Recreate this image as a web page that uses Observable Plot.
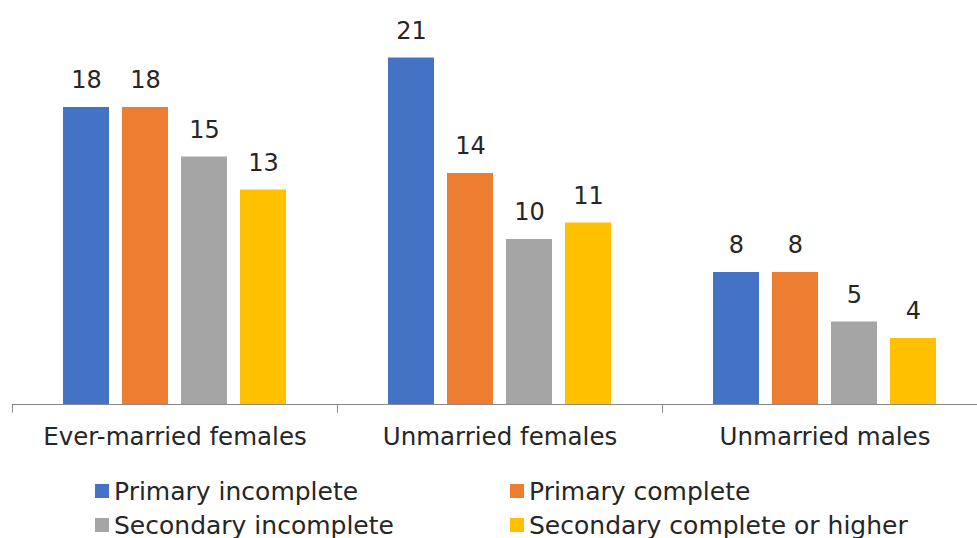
<!DOCTYPE html>
<html>
<head>
<meta charset="utf-8">
<script src="https://cdn.jsdelivr.net/npm/d3@7"></script>
<script src="https://cdn.jsdelivr.net/npm/@observablehq/plot@0.6"></script>
<style>
  html, body { margin: 0; background: #fff; overflow: hidden; font-family: "DejaVu Sans", sans-serif; color: #262626; }
  #chart svg { display: block; overflow: hidden; }
  #legend { position: relative; width: 977px; height: 68px; }
  .item { position: absolute; display: flex; align-items: center; height: 34px; font-size: 25px; white-space: nowrap; }
  .sw { width: 14px; height: 14px; margin-right: 5px; flex: none; }
</style>
</head>
<body>
<div id="chart"></div>
<div id="legend"></div>
<script>
const groups = ["Ever-married females", "Unmarried females", "Unmarried males"];
const series = ["Primary incomplete", "Primary complete", "Secondary incomplete", "Secondary complete or higher"];
const colors = ["#4472C4", "#ED7D31", "#A5A5A5", "#FFC000"];
const primaryIncomplete = [18, 21, 8];
const primaryComplete = [18, 14, 8];
const secondaryIncomplete = [15, 10, 5];
const secondaryCompleteOrHigher = [13, 11, 4];
const seriesValues = [primaryIncomplete, primaryComplete, secondaryIncomplete, secondaryCompleteOrHigher];

const data = groups.flatMap((g, gi) => series.map((s, si) => ({group: g, series: s, value: seriesValues[si][gi]})));

const axisColor = "#898989";

const chart = Plot.plot({
  width: 977,
  height: 470,
  marginLeft: 12,
  marginRight: -10,
  marginTop: 8,
  marginBottom: 66,
  style: {fontFamily: "DejaVu Sans, sans-serif", fontSize: "24.5px", color: "#262626", background: "#fff"},
  fx: {domain: groups, padding: 0, label: null, tickSize: 0, tickPadding: 23},
  x: {domain: series, paddingInner: 0.22, paddingOuter: 0.864, axis: null},
  y: {domain: [0, 24], axis: null},
  color: {domain: series, range: colors},
  marks: [
    Plot.barY(data, {fx: "group", x: "series", y: "value", fill: "series"}),
    Plot.text(data, {fx: "group", x: "series", y: "value", text: d => String(d.value), dy: -27, fontSize: 24, fill: "#262626"}),
    Plot.ruleY([0], {stroke: axisColor}),
    (index, scales, values, dimensions) => {
      const y0 = Math.round(scales.y(0)) + 0.5;
      const g = d3.create("svg:g").attr("stroke", axisColor);
      for (const x of [dimensions.marginLeft, dimensions.width - dimensions.marginRight]) {
        const xx = Math.round(x) + 0.5;
        g.append("line").attr("x1", xx).attr("x2", xx).attr("y1", y0).attr("y2", y0 + 8);
      }
      return g.node();
    }
  ]
});
document.getElementById("chart").appendChild(chart);

const legend = document.getElementById("legend");
const colLeft = [95, 510];
series.forEach((s, i) => {
  const item = document.createElement("div");
  item.className = "item";
  item.style.left = colLeft[i % 2] + "px";
  item.style.top = (4 + Math.floor(i / 2) * 34) + "px";
  const sw = document.createElement("span");
  sw.className = "sw";
  sw.style.background = colors[i];
  item.appendChild(sw);
  item.appendChild(document.createTextNode(s));
  legend.appendChild(item);
});
</script>
</body>
</html>
